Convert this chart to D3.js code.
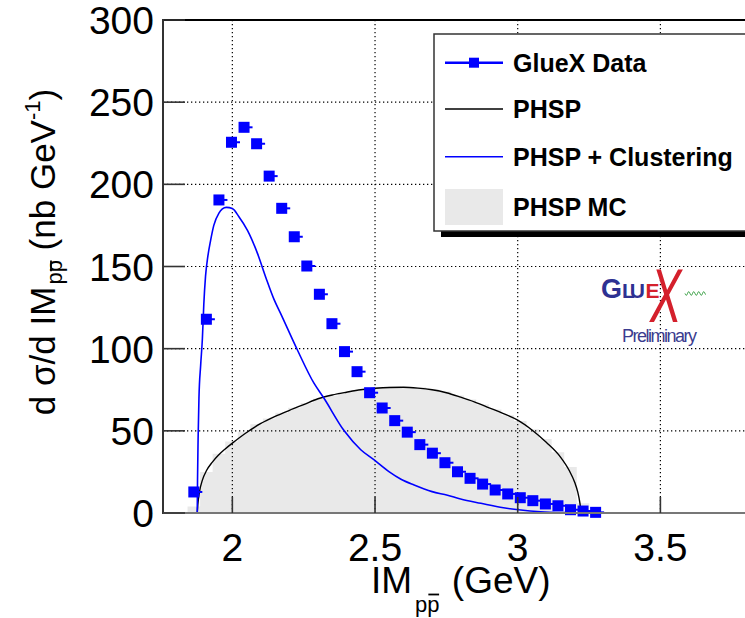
<!DOCTYPE html>
<html>
<head>
<meta charset="utf-8">
<script src="https://cdn.jsdelivr.net/npm/d3@7"></script>
<style>
  html, body { margin: 0; padding: 0; background: #fff; }
  svg { display: block; }
  text { font-family: "Liberation Sans", Arial, Helvetica, sans-serif; }
</style>
</head>
<body>
<svg id="chart" width="745" height="618"></svg>
<script>
// GlueX measured cross section, bin centres (GeV) and values (nb/GeV)
const dataX = [1.865, 1.909, 1.953, 1.997, 2.041, 2.085, 2.129, 2.173, 2.217, 2.261,
               2.305, 2.349, 2.393, 2.437, 2.481, 2.525, 2.569, 2.613, 2.657, 2.701,
               2.745, 2.789, 2.833, 2.877, 2.921, 2.965, 3.009, 3.053, 3.097, 3.141,
               3.185, 3.229, 3.273];
const dataY = [12.8, 117.9, 190.5, 225.6, 234.7, 224.7, 205.0, 185.4, 168.1, 150.3,
               133.1, 115.2, 98.2, 86.0, 73.2, 63.9, 56.2, 49.2, 41.6, 36.4,
               30.6, 25.1, 21.1, 17.6, 14.0, 11.6, 9.3, 7.5, 5.5, 4.4,
               2.0, 1.2, 0.4];

// Phase-space curve
const phspX = [1.877, 1.879, 1.885, 1.895, 1.910, 1.930, 1.950, 1.975, 2.00, 2.05,
               2.10, 2.15, 2.20, 2.25, 2.30, 2.35, 2.40, 2.45, 2.50, 2.55,
               2.60, 2.65, 2.70, 2.75, 2.80, 2.85, 2.90, 2.95, 3.00, 3.05,
               3.10, 3.15, 3.18, 3.20, 3.21, 3.218, 3.222];
const phspY = [0, 5, 13, 20, 26, 31, 35, 39, 42.5, 49,
               54.5, 58.8, 62.5, 66, 69.5, 71.8, 73.5, 75, 75.9, 76.4,
               76.5, 76, 75, 73.2, 70.5, 67.5, 64, 60.5, 56.5, 50.5,
               43, 34, 26, 18.5, 13, 6, 0];

// Phase space with clustering
const clusX = [1.877, 1.878, 1.880, 1.883, 1.889, 1.895, 1.900, 1.906, 1.914, 1.924,
               1.935, 1.953, 1.965, 1.979, 2.000, 2.023, 2.053, 2.088, 2.117, 2.146,
               2.169, 2.228, 2.286, 2.319, 2.392, 2.450, 2.497, 2.550, 2.591, 2.637,
               2.700, 2.754, 2.800, 2.871, 2.950, 3.011, 3.080, 3.175, 3.222];
const clusY = [0, 20, 45, 70, 90, 106, 127, 144, 156, 166,
               175, 182.5, 185, 186, 185.3, 180.3, 172, 158, 143.5, 130,
               121.5, 99.2, 79, 70.4, 50, 38.5, 32.3, 25, 20.5, 17,
               13, 10.8, 8.5, 5.9, 3.2, 1.8, 0.8, 0.2, 0];

// Phase-space Monte Carlo histogram: bin edges and contents
const mcEdges = [1.843, 1.887, 1.931, 1.975, 2.019, 2.063, 2.107, 2.151, 2.195, 2.239,
                 2.283, 2.327, 2.371, 2.415, 2.459, 2.503, 2.547, 2.591, 2.635, 2.679,
                 2.723, 2.767, 2.811, 2.855, 2.899, 2.943, 2.987, 3.031, 3.075, 3.119,
                 3.163, 3.207, 3.251];
const mcValues = [4, 25, 36, 43.5, 49.5, 54, 57.5, 61, 64, 67,
                  69.5, 71.5, 73.5, 74.5, 75.5, 76.5, 77, 76.5, 76.5, 75.5,
                  74, 71.5, 69, 66, 63, 59.5, 56, 51, 45, 37,
                  28, 6];

const xTicks = [2, 2.5, 3, 3.5];
const yTicks = [0, 50, 100, 150, 200, 250, 300];
const xTickLabels = ["2", "2.5", "3", "3.5"];

const legendItems = ["GlueX Data", "PHSP", "PHSP + Clustering", "PHSP MC"];

const svg = d3.select("#chart");
const frame = { left: 163, top: 20, bottom: 513, right: 746 };

const x = d3.scaleLinear().domain([1.757, 3.8]).range([frame.left, frame.right]);
const y = d3.scaleLinear().domain([0, 300]).range([frame.bottom, frame.top]);

const plot = svg.append("g");

// MC histogram as a filled step area
const mcSteps = [];
mcValues.forEach((v, i) => {
  mcSteps.push([mcEdges[i], v]);
  mcSteps.push([mcEdges[i + 1], v]);
});
plot.append("path")
  .datum(mcSteps)
  .attr("fill", "#e9e9e9")
  .attr("stroke", "none")
  .attr("d", d3.area().x(d => x(d[0])).y0(y(0)).y1(d => y(d[1])));

// dotted grid
const grid = plot.append("g").attr("stroke", "#000").attr("stroke-width", 1.2)
  .attr("stroke-dasharray", "1.3,2.7");
grid.selectAll("line.gx").data(xTicks).join("line")
  .attr("x1", d => x(d)).attr("x2", d => x(d))
  .attr("y1", y(300)).attr("y2", y(0));
grid.selectAll("line.gy").data(yTicks.filter(v => v > 0 && v < 300)).join("line")
  .attr("x1", frame.left).attr("x2", frame.right)
  .attr("y1", d => y(d)).attr("y2", d => y(d));

// curves
const line = d3.line().x(d => x(d[0])).y(d => y(d[1])).curve(d3.curveMonotoneX);
plot.append("path")
  .datum(phspX.map((v, i) => [v, phspY[i]]))
  .attr("fill", "none").attr("stroke", "#000").attr("stroke-width", 1.4)
  .attr("d", line);
plot.append("path")
  .datum(clusX.map((v, i) => [v, clusY[i]]))
  .attr("fill", "none").attr("stroke", "#0000ff").attr("stroke-width", 1.6)
  .attr("d", line);

// axes frame
svg.append("line").attr("x1", frame.left).attr("x2", frame.right).attr("y1", frame.top).attr("y2", frame.top)
  .attr("stroke", "#000").attr("stroke-width", 2);
svg.append("line").attr("x1", frame.left).attr("x2", frame.left).attr("y1", frame.top - 1).attr("y2", frame.bottom + 1)
  .attr("stroke", "#333").attr("stroke-width", 2);
svg.append("line").attr("x1", frame.left).attr("x2", frame.right).attr("y1", frame.bottom).attr("y2", frame.bottom)
  .attr("stroke", "#777").attr("stroke-width", 2);

// ticks
svg.append("g").selectAll("line").data(yTicks).join("line")
  .attr("x1", frame.left).attr("x2", frame.left + 22)
  .attr("y1", d => y(d)).attr("y2", d => y(d))
  .attr("stroke", "#333").attr("stroke-width", 1.6);
svg.append("g").selectAll("line").data(xTicks).join("line")
  .attr("x1", d => x(d)).attr("x2", d => x(d))
  .attr("y1", frame.bottom).attr("y2", frame.bottom - 16)
  .attr("stroke", "#333").attr("stroke-width", 1.6);

// tick labels
svg.append("g").selectAll("text").data(yTicks).join("text")
  .attr("x", 154).attr("y", d => y(d) + 14)
  .attr("text-anchor", "end").attr("font-size", 39).attr("fill", "#000")
  .text(d => d);
svg.append("g").selectAll("text").data(xTicks).join("text")
  .attr("x", d => x(d)).attr("y", 561)
  .attr("text-anchor", "middle").attr("font-size", 39).attr("fill", "#000")
  .text((d, i) => xTickLabels[i]);

// data points: squares with a short x-error stub
const pts = plot.append("g");
pts.selectAll("line").data(dataX).join("line")
  .attr("x1", d => x(d)).attr("x2", d => x(d) + 8.5)
  .attr("y1", (d, i) => y(dataY[i])).attr("y2", (d, i) => y(dataY[i]))
  .attr("stroke", "#0000ff").attr("stroke-width", 2);
pts.selectAll("rect").data(dataX).join("rect")
  .attr("x", d => x(d) - 5.5).attr("y", (d, i) => y(dataY[i]) - 5.5)
  .attr("width", 11).attr("height", 11).attr("fill", "#0000ff");

// axis titles (the anti-proton bar is drawn as a line over the second "p")
const xtG = svg.append("g");
const xt = xtG.append("text").attr("x", 371).attr("y", 593).attr("font-size", 37).attr("fill", "#000");
xt.append("tspan").text("IM");
xt.append("tspan").attr("font-size", 22).attr("dy", 19).attr("dx", 3).text("pp");
xt.append("tspan").attr("dy", -19).attr("dx", 2).text(" (GeV)");

const ytG = svg.append("g").attr("transform", "translate(55,252) rotate(-90)");
const yt = ytG.append("text").attr("text-anchor", "middle").attr("font-size", 35).attr("fill", "#000");
yt.append("tspan").text("d σ/d IM");
yt.append("tspan").attr("font-size", 22).attr("dy", 7).attr("dx", 2).text("pp");
yt.append("tspan").attr("dy", -7).text(" (nb GeV");
yt.append("tspan").attr("font-size", 22).attr("dy", -15).text("-1");
yt.append("tspan").attr("dy", 15).text(")");

function barOver(g, textSel, charIndex, yPos) {
  const node = textSel.node();
  const s = node.getStartPositionOfChar(charIndex);
  const e = node.getEndPositionOfChar(charIndex);
  g.append("line").attr("x1", s.x + 1).attr("x2", e.x - 0.5)
    .attr("y1", yPos).attr("y2", yPos)
    .attr("stroke", "#000").attr("stroke-width", 1.8);
}
function drawBars() {
  xtG.selectAll("line").remove();
  ytG.selectAll("line").remove();
  barOver(xtG, xt, 3, 594.5);
  barOver(ytG, yt, 9, -4);
}
drawBars();
if (document.fonts && document.fonts.ready) document.fonts.ready.then(drawBars);

// legend
const lg = svg.append("g");
lg.append("rect").attr("x", 441).attr("y", 40).attr("width", 320).attr("height", 197).attr("fill", "#000");
lg.append("rect").attr("x", 434).attr("y", 34).attr("width", 320).attr("height", 197)
  .attr("fill", "#fff").attr("stroke", "#333").attr("stroke-width", 1.5);
const rowY = [62.7, 109, 156.7, 206.7];
lg.selectAll("text").data(legendItems).join("text")
  .attr("x", 513).attr("y", (d, i) => rowY[i] + 9)
  .attr("font-size", 25).attr("font-weight", "bold").attr("fill", "#000")
  .text(d => d);
lg.append("line").attr("x1", 445).attr("x2", 503).attr("y1", rowY[0]).attr("y2", rowY[0])
  .attr("stroke", "#0000ff").attr("stroke-width", 2.5);
lg.append("rect").attr("x", 469).attr("y", rowY[0] - 5).attr("width", 10).attr("height", 10).attr("fill", "#0000ff");
lg.append("line").attr("x1", 445).attr("x2", 503).attr("y1", rowY[1]).attr("y2", rowY[1])
  .attr("stroke", "#000").attr("stroke-width", 1.3);
lg.append("line").attr("x1", 445).attr("x2", 503).attr("y1", rowY[2]).attr("y2", rowY[2])
  .attr("stroke", "#0000ff").attr("stroke-width", 1.5);
lg.append("rect").attr("x", 445).attr("y", 189).attr("width", 58).attr("height", 36).attr("fill", "#e9e9e9");

// GlueX logo
const logo = svg.append("g");
logo.append("text").attr("x", 601).attr("y", 297.5).attr("font-size", 27).attr("font-weight", "bold")
  .attr("font-family", "DejaVu Sans").attr("fill", "#2e3192").attr("textLength", 21).text("G");
logo.append("text").attr("x", 622).attr("y", 297.5).attr("font-size", 21).attr("font-weight", "bold")
  .attr("font-family", "DejaVu Sans").attr("fill", "#2e3192").attr("textLength", 23).text("LU");
logo.append("text").attr("x", 645.5).attr("y", 297.5).attr("font-size", 21).attr("font-weight", "bold")
  .attr("font-family", "DejaVu Sans").attr("fill", "#d4202c").attr("textLength", 11).text("E");
logo.append("text").attr("transform", "translate(650,322) scale(0.62,1)").attr("font-size", 76)
  .attr("font-style", "italic").attr("font-family", "DejaVu Serif").attr("fill", "#d4202c").text("X");
const wave = d3.range(0, 21, 0.5).map(t => [685 + t, 293.5 + 1.8 * Math.sin(t * Math.PI / 2.5)]);
logo.append("path").attr("d", d3.line()(wave)).attr("fill", "none").attr("stroke", "#2e9a3a").attr("stroke-width", 1);
logo.append("text").attr("x", 622).attr("y", 342).attr("font-size", 18)
  .attr("font-family", "Open Sans").attr("fill", "#3b3c8f").attr("textLength", 75).text("Preliminary");
</script>
</body>
</html>
